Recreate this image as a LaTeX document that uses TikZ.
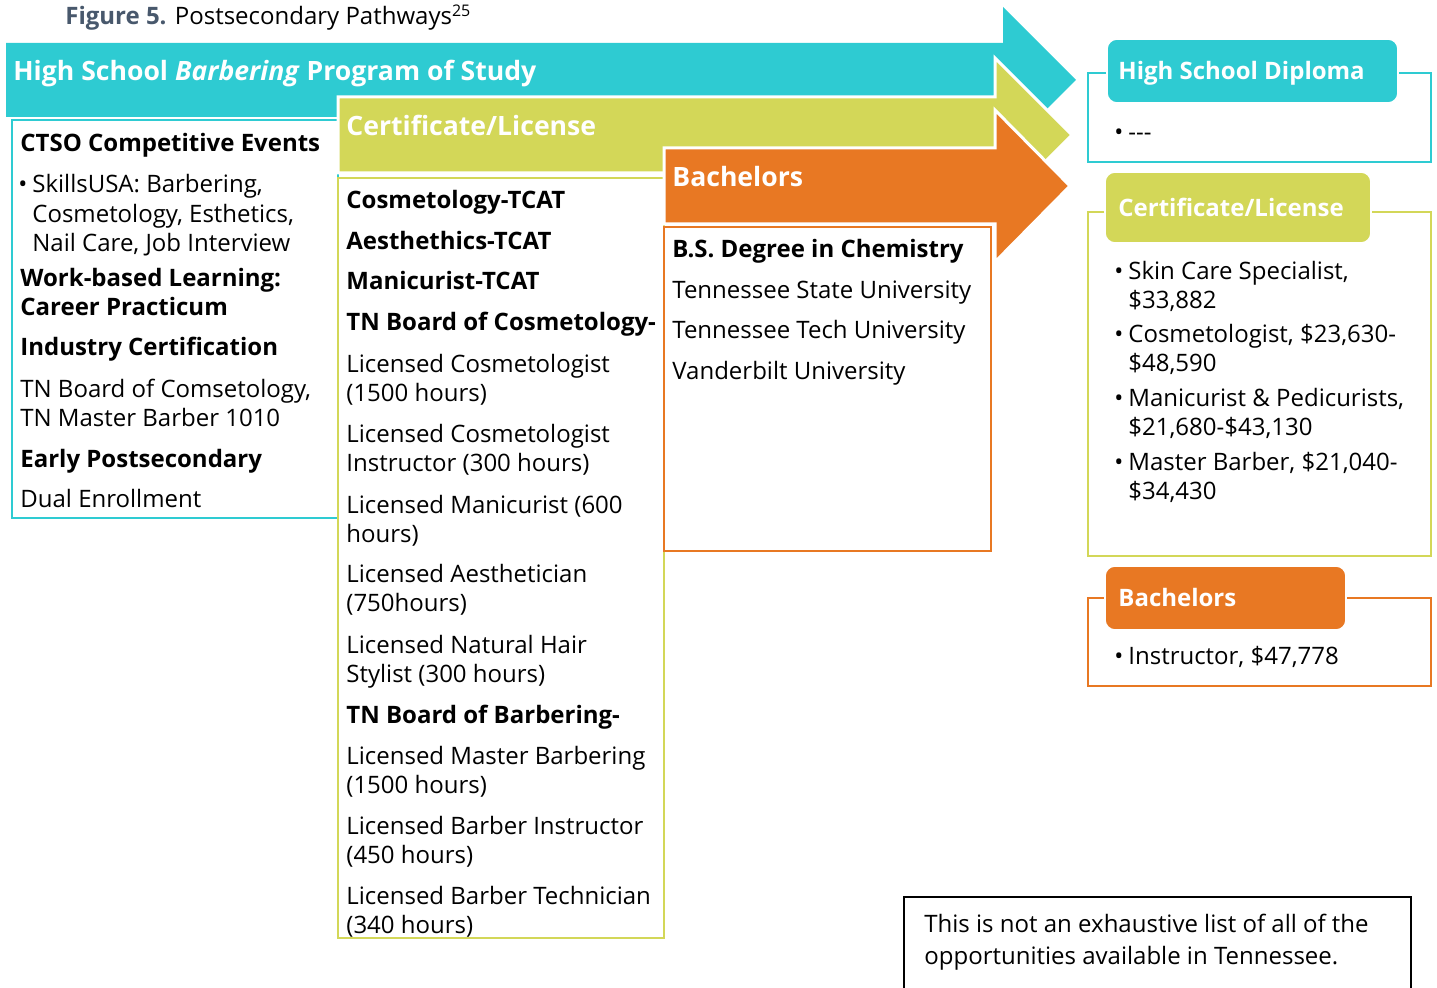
\documentclass[tikz,border=0pt]{standalone}
\usepackage{fontspec}
\setmainfont{Open Sans}
\usetikzlibrary{positioning}

\definecolor{pathteal}{RGB}{46,203,210}
\definecolor{pathgreen}{RGB}{211,215,88}
\definecolor{pathorange}{RGB}{232,120,35}
\definecolor{figslate}{RGB}{72,88,108}

\newcommand{\bul}{\llap{\textbullet\hspace{2.5pt}}}

\tikzset{
  bandtext/.style={anchor=base west, inner sep=0, text=white, font=\fontsize{13.3}{16}\selectfont\bfseries},
  tabtext/.style={anchor=base west, inner sep=0, text=white, font=\fontsize{12}{15}\selectfont\bfseries},
  entry/.style={anchor=base west, inner sep=0, yshift=-0.9pt, align=left, font=\fontsize{12}{14.75}\selectfont},
  entryhead/.style={entry, font=\fontsize{12}{14.75}\selectfont\bfseries},
  band/.style={fill=#1, draw=white, line width=1.5pt, line join=miter},
  listbox/.style={draw=#1, line width=1.3pt},
  tab/.style={fill=#1, draw=white, line width=0.8pt, rounded corners=5pt},
}

\begin{document}
\begin{tikzpicture}[x=0.5pt, y=-0.5pt]
  \useasboundingbox (0, 0) rectangle (1437, 988);
  % Title
  \node (title) [anchor=base west, inner sep=0, font=\fontsize{12}{14}\selectfont] at (65, 25) {\textcolor{figslate}{\bfseries Figure 5.} Postsecondary Pathways\textsuperscript{25}};

  % Arrows and boxes
  \fill[pathteal] (6, 43) -- (1003, 43) -- (1003, 7) -- (1076, 80) -- (1003, 153) -- (1003, 117) -- (6, 117) -- cycle;
  \draw[listbox=pathteal] (12, 120) rectangle (338, 518);
  \draw[band=pathgreen] (338, 97) -- (995, 97) -- (995, 58) -- (1072, 135) -- (995, 212) -- (995, 173) -- (338, 173) -- cycle;
  \draw[listbox=pathgreen] (338, 178) rectangle (664, 938);
  \draw[band=pathorange] (664, 148) -- (995, 148) -- (995, 110) -- (1070, 186) -- (995, 262) -- (995, 224) -- (664, 224) -- cycle;
  \draw[listbox=pathorange] (664, 227) rectangle (991, 551);

  % Band labels (multi-line nodes sit on their last baseline)
  \node (hs-band) [bandtext] at (13, 81) {High School \textit{Barbering} Program of Study};
  \node (cert-band) [bandtext] at (346, 136) {Certificate/License};
  \node (bach-band) [bandtext] at (672, 187) {Bachelors};

  % Left column
  \node (ctso) [entryhead] at (20, 150) {CTSO Competitive Events};
  \node (skills) [entry] at (32, 250) {\bul SkillsUSA: Barbering,\\Cosmetology, Esthetics,\\Nail Care, Job Interview};
  \node (wbl) [entryhead] at (20, 314) {Work-based Learning:\\Career Practicum};
  \node (industry) [entryhead] at (20, 354) {Industry Certification};
  \node (boards) [entry] at (20, 425) {TN Board of Comsetology,\\TN Master Barber 1010};
  \node (early) [entryhead] at (20, 466) {Early Postsecondary};
  \node (dual) [entry] at (20, 506) {Dual Enrollment};

  % Certificate column
  \node (cos-tcat) [entryhead] at (346, 207) {Cosmetology-TCAT};
  \node (aes-tcat) [entryhead] at (346, 248) {Aesthethics-TCAT};
  \node (man-tcat) [entryhead] at (346, 288) {Manicurist-TCAT};
  \node (cos-board) [entryhead] at (346, 329) {TN Board of Cosmetology-};
  \node (lic-cos) [entry] at (346, 400) {Licensed Cosmetologist\\(1500 hours)};
  \node (lic-cosi) [entry] at (346, 470) {Licensed Cosmetologist\\Instructor (300 hours)};
  \node (lic-man) [entry] at (346, 541) {Licensed Manicurist (600\\hours)};
  \node (lic-aes) [entry] at (346, 610) {Licensed Aesthetician\\(750hours)};
  \node (lic-hair) [entry] at (346, 681) {Licensed Natural Hair\\Stylist (300 hours)};
  \node (barb-board) [entryhead] at (346, 722) {TN Board of Barbering-};
  \node (lic-mbarb) [entry] at (346, 792) {Licensed Master Barbering\\(1500 hours)};
  \node (lic-binst) [entry] at (346, 862) {Licensed Barber Instructor\\(450 hours)};
  \node (lic-btech) [entry] at (346, 932) {Licensed Barber Technician\\(340 hours)};

  % Bachelors column
  \node (bs-chem) [entryhead] at (672, 256) {B.S. Degree in Chemistry};
  \node (tsu) [entry] at (672, 297) {Tennessee State University};
  \node (ttu) [entry] at (672, 337) {Tennessee Tech University};
  \node (vu) [entry] at (672, 378) {Vanderbilt University};

  % Outcomes
  \draw[listbox=pathteal] (1088, 73) rectangle (1431, 162);
  \fill[tab=pathteal] (1107, 39) rectangle (1398, 103);
  \node (diploma) [tabtext] at (1118, 80) {High School Diploma};
  \node (diploma-list) [entry] at (1128, 139) {\bul {-}{-}{-}};

  \draw[listbox=pathgreen] (1088, 212) rectangle (1431, 556);
  \fill[tab=pathgreen] (1105, 172) rectangle (1371, 243);
  \node (cert) [tabtext] at (1118, 217) {Certificate/License};
  \node (skin) [entry] at (1128, 307) {\bul Skin Care Specialist,\\\$33,882};
  \node (cosmo) [entry] at (1128, 370) {\bul Cosmetologist, \$23,630-\\\$48,590};
  \node (mani) [entry] at (1128, 434) {\bul Manicurist \& Pedicurists,\\\$21,680-\$43,130};
  \node (master) [entry] at (1128, 498) {\bul Master Barber, \$21,040-\\\$34,430};

  \draw[listbox=pathorange] (1088, 598) rectangle (1431, 686);
  \fill[tab=pathorange] (1105, 566) rectangle (1346, 630);
  \node (bach) [tabtext] at (1118, 607) {Bachelors};
  \node (instr) [entry] at (1128, 663) {\bul Instructor, \$47,778};

  % Note
  \draw[line width=1pt] (904, 995) -- (904, 897) -- (1411, 897) -- (1411, 995);
  \node (note) [entry, font=\fontsize{12}{16}\selectfont] at (924, 963) {This is not an exhaustive list of all of the\\opportunities available in Tennessee.};
\end{tikzpicture}
\end{document}
